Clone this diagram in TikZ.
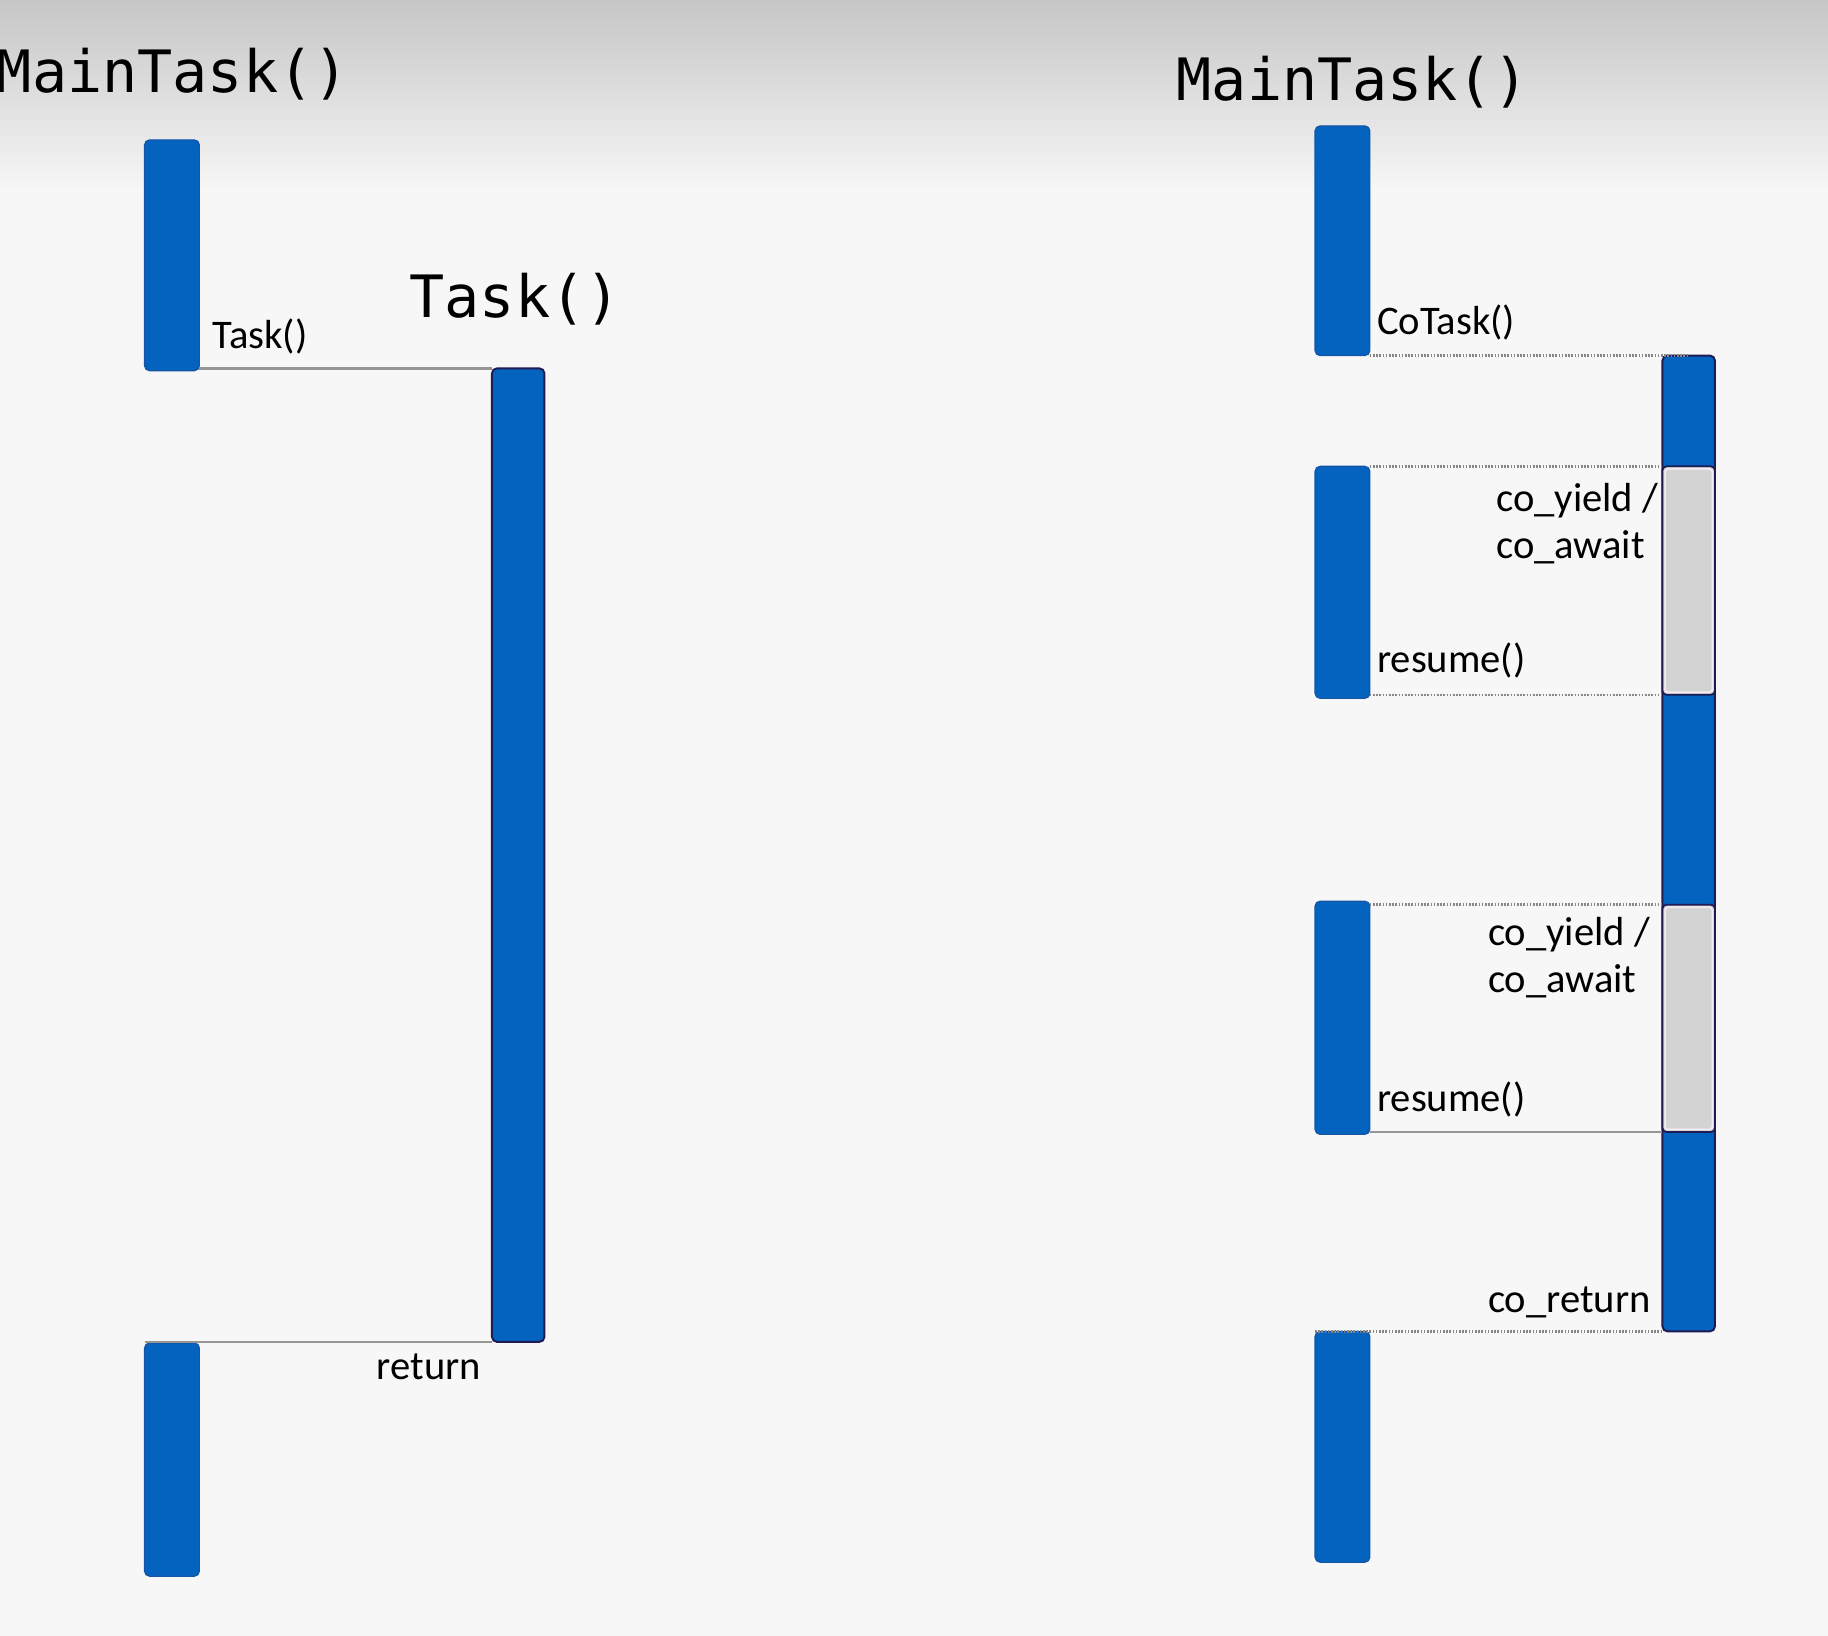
\documentclass[tikz,border=0pt]{standalone}
\usepackage{fontspec}
\setmainfont{Carlito}
\newfontfamily\titlemono{DejaVu Sans Mono}
\usetikzlibrary{fit}
\definecolor{bgcol}{RGB}{247,247,247}
\definecolor{topgray}{RGB}{198,198,198}
\definecolor{barblue}{RGB}{4,99,190}
\definecolor{baredge}{RGB}{20,85,165}
\definecolor{navyedge}{RGB}{30,28,85}
\definecolor{suspgray}{RGB}{211,211,211}
\definecolor{suspinner}{RGB}{245,235,245}
\definecolor{msggray}{RGB}{150,150,150}
\definecolor{dotgray}{RGB}{135,135,135}
\begin{document}
\begin{tikzpicture}[x=0.5829pt,y=-0.5829pt,
  callbar/.style={fill=barblue, draw=baredge, line width=0.6pt, rounded corners=2.5pt, inner sep=0pt, outer sep=0pt},
  taskbar/.style={fill=barblue, draw=navyedge, line width=1pt, rounded corners=2.5pt, inner sep=0pt, outer sep=0pt},
  suspbar/.style={fill=suspgray, draw=navyedge, line width=0.9pt, rounded corners=2pt, inner sep=0pt, outer sep=0pt},
  suspin/.style={draw=suspinner, line width=0.8pt, rounded corners=1.5pt},
  msgline/.style={draw=msggray, line width=1.2pt},
  dotline/.style={draw=dotgray, line width=1.2pt, dash pattern=on 0.8pt off 0.8pt},
  title/.style={font=\titlemono\fontsize{29.2}{35}\selectfont, inner sep=0pt, anchor=base west},
  lbl/.style={font=\fontsize{20.3}{24}\selectfont, inner sep=0pt, anchor=base west},
]
\useasboundingbox (0,0) rectangle (1568,1403);
\clip (0,0) rectangle (1568,1403);
\fill[bgcol] (0,0) rectangle (1568,1403);
\shade[top color=topgray, bottom color=bgcol] (0,0) rectangle (1568,165);

% ---------- left: ordinary function call ----------
\node[title] (tmainL) at (-3,79) {MainTask()};
\node[title] (ttask) at (351,272) {Task()};

\node[callbar, fit={(124,120)(171,318)}] (L1) {};
\node[taskbar, fit={(422,316)(467,1151)}] (T) {};
\node[callbar, fit={(124,1152)(171,1352)}] (L2) {};

\draw[msgline] (T.north west -| L1.east) -- (T.north west);
\draw[msgline] (T.south west -| L2.west) -- (T.south west);

\node[lbl] (lcall) at (182,299) {Task()};
\node[lbl] (lret) at (323,1183) {return};

% ---------- right: coroutine ----------
\node[title] (tmainR) at (1009,86) {MainTask()};

\node[callbar, fit={(1128,108)(1175,305)}] (R1) {};
\node[taskbar, fit={(1426,305)(1471,1142)}] (CB) {};
\node[suspbar, fit={(1426,400)(1471,596)}] (G1) {};
\draw[suspin] ([xshift=1.3pt,yshift=-1.3pt]G1.north west) rectangle ([xshift=-1.3pt,yshift=1.3pt]G1.south east);
\node[suspbar, fit={(1426,776)(1471,971)}] (G2) {};
\draw[suspin] ([xshift=1.3pt,yshift=-1.3pt]G2.north west) rectangle ([xshift=-1.3pt,yshift=1.3pt]G2.south east);

\node[callbar, fit={(1128,400)(1175,599)}] (R2) {};
\node[callbar, fit={(1128,773)(1175,973)}] (R3) {};
\node[callbar, fit={(1128,1142)(1175,1340)}] (R4) {};

\draw[dotline] (R1.south east) -- (R1.south east -| CB.north);
\draw[dotline] (R2.north east) -- (R2.north east -| G1.west);
\draw[dotline] (G1.south west -| R2.east) -- (G1.south west);
\draw[dotline] (G2.north west -| R3.east) -- (G2.north west);
\draw[msgline] (G2.south west -| R3.east) -- (G2.south west);
\draw[dotline] (CB.south west -| R4.west) -- (CB.south west);

\node[lbl] (lco) at (1181,287) {CoTask()};
\node[lbl] (ly1) at (1283,439) {co\_yield /};
\node[lbl] (la1) at (1283,479) {co\_await};
\node[lbl] (lr1) at (1181,577) {resume()};
\node[lbl] (ly2) at (1276,811) {co\_yield /};
\node[lbl] (la2) at (1276,851) {co\_await};
\node[lbl] (lr2) at (1181,953) {resume()};
\node[lbl] (lcr) at (1276,1126) {co\_return};
\end{tikzpicture}
\end{document}
